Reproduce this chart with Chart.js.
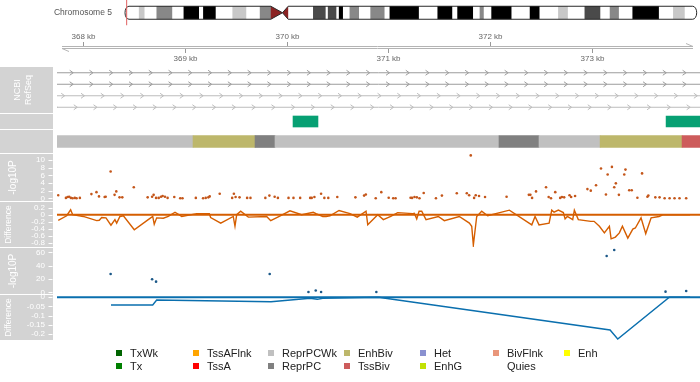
<!DOCTYPE html>
<html><head><meta charset="utf-8">
<script src="https://cdn.jsdelivr.net/npm/chart.js@4.4.1/dist/chart.umd.min.js"></script>
<style>
html,body{margin:0;padding:0;background:#fff;}
#wrap{position:relative;width:700px;height:382px;overflow:hidden;background:#fff;font-family:"Liberation Sans",Arial,sans-serif;}
#wrap canvas{position:absolute;left:0;}
.li{position:absolute;font-size:11px;color:#222;line-height:13px;white-space:nowrap;}
.sw{position:absolute;width:6px;height:6px;}
</style></head><body><div id="wrap"></div>
<script>
// ================= DATA =================
const viewStartKb = 367.745;
const viewEndKb = 374.06;
const axisTickKb = [368, 369, 370, 371, 372, 373];

const chromosomeLabel = 'Chromosome 5';
const chromosomeLengthMb = 181.5;
const bandStartMb = [0, 4.5, 6.3, 10.1, 15.1, 18.7, 23.6, 24.9, 28.9, 34.2, 38.6, 42.9, 51.8, 59.8, 63.8, 64.5, 67.2, 68.0, 69.3, 71.4, 74.4, 78.0, 82.5, 84.1, 93.4, 99.3, 104.0, 105.6, 110.6, 112.7, 114.0, 116.4, 122.8, 128.6, 131.7, 137.6, 140.7, 146.0, 151.0, 154.0, 156.9, 161.2, 169.6, 174.1, 177.8];
const bandEndMb   = [4.5, 6.3, 10.1, 15.1, 18.7, 23.6, 24.9, 28.9, 34.2, 38.6, 42.9, 46.3, 59.8, 63.8, 64.5, 67.2, 68.0, 69.3, 71.4, 74.4, 78.0, 82.5, 84.1, 93.4, 99.3, 104.0, 105.6, 110.6, 112.7, 114.0, 116.4, 122.8, 128.6, 131.7, 137.6, 140.7, 146.0, 151.0, 154.0, 156.9, 161.2, 169.6, 174.1, 177.8, 181.5];
const bandStain   = ['gneg','gpos25','gneg','gpos50','gneg','gpos100','gneg','gpos100','gneg','gpos25','gneg','gpos50','gneg','gpos75','gneg','gpos75','gneg','gpos100','gneg','gpos50','gneg','gpos50','gneg','gpos100','gneg','gpos100','gneg','gpos100','gneg','gpos50','gneg','gpos100','gneg','gpos100','gneg','gpos25','gneg','gpos75','gneg','gpos50','gneg','gpos100','gneg','gpos25','gneg'];
const centromereMb = [46.3, 50.0, 51.8];
const highlightMb = [0.3677, 0.3741];

const geneStartKb = [367.597, 367.597, 367.708, 367.637];
const geneEndKb   = [374.5, 374.5, 374.5, 374.5];
const geneRow     = [1, 2, 3, 4];

const featureStartKb = [370.063, 373.727];
const featureEndKb   = [370.308, 374.5];

const stateStartKb = [367.5, 369.081, 369.690, 369.886, 372.086, 372.479, 373.079, 373.884];
const stateEndKb   = [369.081, 369.690, 369.886, 372.086, 372.479, 373.079, 373.884, 374.5];
const stateName    = ['ReprPCWk','EnhBiv','ReprPC','ReprPCWk','ReprPC','ReprPCWk','EnhBiv','TssBiv'];

const legendStates = ['TxWk','Tx','TssAFlnk','TssA','ReprPCWk','ReprPC','EnhBiv','TssBiv','Het','EnhG','BivFlnk','Quies','Enh'];

const orangePosKb = [367.757,367.833,367.850,367.865,367.882,367.899,367.921,367.938,367.971,368.085,368.135,368.160,368.216,368.226,368.275,368.314,368.331,368.363,368.390,368.504,368.641,368.685,368.700,368.724,368.750,368.773,368.789,368.812,368.838,368.904,368.963,368.985,369.117,369.189,369.215,369.241,369.254,369.353,369.476,369.493,369.510,369.549,369.624,369.657,369.804,369.844,369.896,369.928,370.033,370.082,370.148,370.247,370.262,370.289,370.355,370.387,370.426,370.515,370.694,370.780,370.797,370.895,370.950,371.023,371.068,371.091,371.239,371.254,371.278,371.301,371.327,371.369,371.490,371.549,371.696,371.795,371.818,371.834,371.867,371.883,371.916,371.975,372.188,372.408,372.423,372.440,372.479,372.578,372.604,372.627,372.669,372.718,372.735,372.757,372.810,372.826,372.865,372.987,373.020,373.072,373.121,373.170,373.187,373.229,373.252,373.268,373.298,373.351,373.363,373.400,373.425,373.481,373.527,373.580,373.589,373.658,373.700,373.750,373.799,373.848,373.897,373.963];
const orangeLogP = [0.8,0.1,0.35,0.4,0.1,0,0.1,0,0.1,1.1,1.6,0.5,0.35,0.4,7.0,0.9,1.8,0.25,0.25,2.9,0.25,0.4,0.9,0.1,0.1,0.4,0.6,0.4,0.1,0.35,0,0,0.1,0,0.1,0.25,0.5,1.2,0.1,1.2,0.35,0.25,0.1,0.1,0.1,0.7,0.4,0.1,0.1,0.1,0.1,0.1,0.1,0.35,1.2,0.1,0.1,0.35,0.25,0.7,1.0,0,1.6,0.15,0,0,0.15,0.1,0.35,0.25,0,1.4,0,0.7,1.3,1.3,0.8,11.2,0.1,0.8,0.6,0.35,0.4,0.9,0.9,0.1,1.8,2.9,0.35,0,1.6,0.1,0.35,0.25,0.8,0.35,0.6,2.4,2.0,3.4,7.8,1.0,6.2,8.2,2.9,3.9,0.9,6.2,7.5,2.1,2.1,0.15,6.5,0.4,0.7,0.25,0.25,0,0,0,0,0];
const orangeLogPTicks = [0, 2, 4, 6, 8, 10];

const orangeDiffPosKb = [367.757,367.840,367.879,367.899,368.003,368.135,368.160,368.184,368.226,368.275,368.314,368.331,368.363,368.397,368.504,368.641,368.685,368.700,368.724,368.789,368.838,368.904,368.970,369.117,369.241,369.254,369.353,369.476,369.493,369.510,369.549,369.624,369.804,369.844,369.928,370.033,370.148,370.262,370.289,370.355,370.387,370.426,370.515,370.623,370.694,370.780,370.797,370.895,370.950,371.023,371.091,371.239,371.254,371.278,371.301,371.327,371.369,371.490,371.549,371.696,371.795,371.818,371.834,371.867,371.916,371.975,372.188,372.408,372.440,372.479,372.578,372.604,372.627,372.669,372.718,372.735,372.757,372.810,372.826,372.865,372.987,373.020,373.072,373.121,373.170,373.187,373.229,373.268,373.298,373.351,373.400,373.425,373.481,373.527,373.580,373.658,373.700,373.750,373.963];
const orangeDiff = [-0.16,-0.03,0.14,0.0,-0.05,-0.17,-0.16,-0.08,-0.09,-0.30,-0.14,-0.24,-0.05,-0.03,-0.43,-0.14,-0.05,-0.27,-0.09,-0.10,-0.05,0.07,-0.05,0.03,0.03,-0.08,-0.24,-0.05,-0.33,0.0,0.10,-0.07,-0.05,-0.17,-0.05,0.11,0.0,0.07,0.03,-0.05,-0.05,-0.03,0.12,0.03,-0.07,0.10,-0.29,0.0,-0.14,-0.05,0.06,0.03,0.04,-0.12,0.10,0.10,-0.14,-0.05,-0.17,-0.05,-0.24,-0.33,-0.87,-0.05,0.10,-0.03,0.13,-0.29,-0.05,-0.29,-0.24,0.13,0.07,0.13,0.06,-0.12,-0.05,-0.14,0.13,-0.14,-0.19,-0.19,-0.33,-0.52,-0.33,-0.69,-0.64,-0.52,-0.33,-0.67,-0.41,-0.38,-0.09,-0.54,-0.09,-0.05,0.0,0.0,0.0];
const orangeDiffTicks = [0.2, 0, -0.2, -0.4, -0.6, -0.8];

const bluePosKb = [368.275, 368.685, 368.724, 369.847, 370.230, 370.302, 370.355, 370.901, 373.177, 373.252, 373.759, 373.963];
const blueLogP  = [27.4, 19.5, 16.0, 27.4, 0.4, 2.6, 0.5, 0.5, 54.4, 63.4, 1.0, 2.0];
const blueLogPTicks = [0, 20, 40, 60];
const blueDiff  = [-0.042, -0.042, -0.015, -0.024, -0.005, -0.011, -0.005, 0, -0.178, -0.227, 0, 0];
const blueDiffTicks = [0, -0.05, -0.1, -0.15, -0.2];

// ================= STYLE =================
const stainColor = {gneg:'#ffffff', gpos25:'#c8c8c8', gpos50:'#888888', gpos75:'#4a4a4a', gpos100:'#000000'};
const stateColor = {TxWk:'#006400', Tx:'#008000', TssAFlnk:'#FFA500', TssA:'#FF0000', ReprPCWk:'#C0C0C0', ReprPC:'#808080', EnhBiv:'#BDB76B', TssBiv:'#CD5C5C', Het:'#8A91D0', EnhG:'#C2E105', BivFlnk:'#E9967A', Quies:'#FFFFFF', Enh:'#FFFF00'};
const geneRowColor = ['#9c9c9c', '#9c9c9c', '#bcbcbc', '#bcbcbc'];
const ORANGE = '#D55E00', ORANGE_PT = '#c4561a', BLUE = '#0a6fae', BLUE_PT = '#1b5888', GREEN = '#07a073';
const P = 10;

Chart.defaults.font.family = '"Liberation Sans", Arial, sans-serif';
Chart.defaults.animation = false;
Chart.defaults.responsive = false;
Chart.defaults.events = [];
Chart.defaults.plugins.legend.display = false;
Chart.defaults.plugins.tooltip.enabled = false;

const wrap = document.getElementById('wrap');
function makeCanvas(top, height) {
  const c = document.createElement('canvas');
  c.width = 700; c.height = height;
  c.style.top = top + 'px'; c.style.width = '700px'; c.style.height = height + 'px';
  wrap.appendChild(c);
  return c;
}
const pts = (xs, ys) => xs.map((x, i) => ({x, y: ys[i]}));
const xScale = () => ({type: 'linear', min: viewStartKb, max: viewEndKb, display: false});
const fixAxis = s => { s.width = 57; s.paddingTop = 0; s.paddingBottom = 0; s.paddingLeft = 0; s.paddingRight = 0; };

function yAxis(min, max, tickVals, title, titleSize, titlePad, extra) {
  return Object.assign({
    type: 'linear', min, max, position: 'left',
    afterFit: fixAxis,
    afterBuildTicks: s => { if (tickVals) s.ticks = tickVals.map(v => ({value: v})); },
    ticks: {display: !!tickVals, autoSkip: false, color: '#ffffff', font: {size: 8}, padding: 12, callback: v => String(v)},
    grid: {display: false, drawTicks: false},
    border: {display: false},
    title: title ? {display: true, text: title, color: '#ffffff', font: {size: titleSize}, padding: {top: titlePad, bottom: 0}} : {display: false}
  }, extra || {});
}

const panelPlugin = {
  id: 'panelBox',
  beforeDraw(chart) {
    const {ctx, chartArea: a} = chart;
    ctx.save(); ctx.fillStyle = '#d3d3d3';
    ctx.fillRect(0, a.top, 53, a.bottom - a.top);
    ctx.restore();
  },
  afterDraw(chart) {
    const s = chart.scales.y, ctx = chart.ctx;
    if (!s || !s.options.ticks.display) return;
    ctx.save(); ctx.strokeStyle = '#ffffff'; ctx.lineWidth = 1;
    s.ticks.forEach(t => {
      const y = Math.round(s.getPixelForValue(t.value)) + 0.5;
      ctx.beginPath(); ctx.moveTo(48.5, y); ctx.lineTo(52.5, y); ctx.stroke();
    });
    ctx.restore();
  }
};

// ---------- Ideogram ----------
const ideogramPlugin = {
  id: 'ideogram',
  afterDatasetsDraw(chart) {
    const {ctx, scales: {x}} = chart;
    const bar = chart.getDatasetMeta(0).data[0];
    const half = bar.height / 2, ym = bar.y, y0 = ym - half, y1 = ym + half;
    const px = v => x.getPixelForValue(v);
    const xs = px(0), xe = px(chromosomeLengthMb);
    const c1 = px(centromereMb[0]), cm = px(centromereMb[1]), c2 = px(centromereMb[2]);
    ctx.save();
    ctx.fillStyle = '#8b2323';
    ctx.beginPath(); ctx.moveTo(c1, y0); ctx.lineTo(cm, ym); ctx.lineTo(c1, y1); ctx.closePath(); ctx.fill();
    ctx.beginPath(); ctx.moveTo(c2, y0); ctx.lineTo(cm, ym); ctx.lineTo(c2, y1); ctx.closePath(); ctx.fill();
    const rx = 4;
    ctx.beginPath();
    ctx.moveTo(xs + rx, y0);
    ctx.lineTo(c1, y0); ctx.lineTo(cm, ym); ctx.lineTo(c2, y0);
    ctx.lineTo(xe - rx, y0);
    ctx.ellipse(xe - rx, ym, rx, half, 0, -Math.PI / 2, Math.PI / 2);
    ctx.lineTo(c2, y1); ctx.lineTo(cm, ym); ctx.lineTo(c1, y1);
    ctx.lineTo(xs + rx, y1);
    ctx.ellipse(xs + rx, ym, rx, half, 0, Math.PI / 2, Math.PI * 1.5);
    ctx.closePath();
    ctx.strokeStyle = '#2a2a2a'; ctx.lineWidth = 1; ctx.stroke();
    const h0 = px(highlightMb[0]), h1 = px(highlightMb[1]);
    ctx.fillStyle = '#e06060';
    ctx.fillRect(h0, 0, Math.max(1, h1 - h0), y1 + 6);
    ctx.fillStyle = '#555555'; ctx.font = '8.5px "Liberation Sans", Arial, sans-serif';
    ctx.textAlign = 'right'; ctx.textBaseline = 'middle';
    ctx.fillText(chromosomeLabel, xs - 13, ym);
    ctx.restore();
  }
};
new Chart(makeCanvas(0, 34), {
  type: 'bar',
  data: {labels: ['chr'], datasets: [{
    data: bandStartMb.map((s, i) => ({x: [s, bandEndMb[i]], y: 'chr'})),
    backgroundColor: bandStain.map(s => stainColor[s]),
    borderWidth: 0, barThickness: 13
  }]},
  options: {
    indexAxis: 'y',
    layout: {padding: {left: 125, right: 3.3, top: 6, bottom: 14.5}},
    scales: {x: {type: 'linear', min: 0, max: chromosomeLengthMb, display: false}, y: {type: 'category', display: false}}
  },
  plugins: [ideogramPlugin]
});

// ---------- Genome axis ----------
const genomeAxisPlugin = {
  id: 'gaxis',
  afterDraw(chart) {
    const {ctx, chartArea: a, scales: {x}} = chart;
    const yl = 22;
    ctx.save();
    ctx.strokeStyle = '#b4b4b4'; ctx.lineWidth = 1;
    ctx.beginPath(); ctx.moveTo(a.left + 5, yl - 0.5); ctx.lineTo(a.right - 7, yl - 0.5); ctx.stroke();
    ctx.beginPath(); ctx.moveTo(a.left + 5, yl + 1.5); ctx.lineTo(a.right - 7, yl + 1.5); ctx.stroke();
    ctx.beginPath(); ctx.moveTo(a.right - 7, yl - 0.5); ctx.lineTo(a.right - 14, yl - 3.5); ctx.stroke();
    ctx.beginPath(); ctx.moveTo(a.left + 5, yl + 1.5); ctx.lineTo(a.left + 12, yl + 4.5); ctx.stroke();
    ctx.strokeStyle = '#999999';
    ctx.fillStyle = '#666666'; ctx.font = '8px "Liberation Sans", Arial, sans-serif';
    ctx.textAlign = 'center'; ctx.textBaseline = 'middle';
    axisTickKb.forEach((v, i) => {
      const xp = Math.round(x.getPixelForValue(v)) + 0.5;
      ctx.beginPath();
      if (i % 2 === 0) { ctx.moveTo(xp, yl - 1); ctx.lineTo(xp, yl - 5); }
      else { ctx.moveTo(xp, yl + 2); ctx.lineTo(xp, yl + 6); }
      ctx.stroke();
      ctx.fillText(v + ' kb', xp, i % 2 === 0 ? yl - 10 : yl + 11.5);
    });
    ctx.restore();
  }
};
new Chart(makeCanvas(25, 42), {
  type: 'line',
  data: {datasets: []},
  options: {
    layout: {padding: {left: 57, right: 0, top: 0, bottom: 0}},
    scales: {x: xScale(), y: {display: false}}
  },
  plugins: [genomeAxisPlugin]
});

// ---------- Genes ----------
const chevronPlugin = {
  id: 'chevrons',
  afterDatasetsDraw(chart) {
    const {ctx, chartArea: a} = chart;
    ctx.save();
    ctx.beginPath(); ctx.rect(a.left, a.top, a.right - a.left, a.bottom - a.top); ctx.clip();
    chart.data.datasets.forEach((ds, i) => {
      const p = chart.getDatasetMeta(i).data;
      const x0 = p[0].x, x1 = p[1].x, y = p[0].y;
      ctx.strokeStyle = ds.borderColor; ctx.lineWidth = 1;
      ctx.beginPath();
      for (let xx = x0 + 10; xx < x1; xx += 19.77) {
        if (xx < a.left - 5 || xx > a.right + 5) continue;
        ctx.moveTo(xx - 2, y - 2.5); ctx.lineTo(xx + 1.5, y); ctx.lineTo(xx - 2, y + 2.5);
      }
      ctx.stroke();
    });
    ctx.restore();
  }
};
new Chart(makeCanvas(67 - P, 46 + 2 * P), {
  type: 'line',
  data: {datasets: geneStartKb.map((s, i) => ({
    data: [{x: s, y: geneRow[i]}, {x: geneEndKb[i], y: geneRow[i]}],
    borderColor: geneRowColor[i], borderWidth: 1, pointRadius: 0
  }))},
  options: {
    layout: {padding: {top: P, bottom: P, left: 0, right: 0}},
    scales: {x: xScale(), y: yAxis(0.5, 4.5, null, ['NCBI', 'RefSeq'], 9, 12.6, {reverse: true})}
  },
  plugins: [panelPlugin, chevronPlugin]
});

// ---------- Features & chromatin states ----------
function barPanel(top, h, label, starts, ends, colors, thick) {
  new Chart(makeCanvas(top - P, h + 2 * P), {
    type: 'bar',
    data: {labels: [label], datasets: [{
      data: starts.map((s, i) => ({x: [s, ends[i]], y: label})),
      backgroundColor: colors, borderWidth: 0, barThickness: thick
    }]},
    options: {
      indexAxis: 'y',
      layout: {padding: {top: P, bottom: P, left: 0, right: 0}},
      scales: {
        x: xScale(),
        y: {type: 'category', position: 'left', afterFit: fixAxis,
            ticks: {display: false}, grid: {display: false, drawTicks: false}, border: {display: false}}
      }
    },
    plugins: [panelPlugin]
  });
}
barPanel(114, 15, 'feat', featureStartKb, featureEndKb, GREEN, 11);
barPanel(130, 23, 'hmm', stateStartKb, stateEndKb, stateName.map(n => stateColor[n]), 12);

// ---------- Orange tracks ----------
new Chart(makeCanvas(154 - P, 47 + 2 * P), {
  type: 'line',
  data: {datasets: [{data: pts(orangePosKb, orangeLogP), showLine: false, pointRadius: 1.3, pointBackgroundColor: ORANGE_PT, pointBorderWidth: 0}]},
  options: {
    layout: {padding: {top: P, bottom: P, left: 0, right: 0}},
    scales: {x: xScale(), y: yAxis(-0.705, 11.57, orangeLogPTicks, '-log10P', 10, 7.3)}
  },
  plugins: [panelPlugin]
});
new Chart(makeCanvas(202 - P, 45 + 2 * P), {
  type: 'line',
  data: {datasets: [
    {data: [{x: viewStartKb, y: 0}, {x: viewEndKb, y: 0}], borderColor: ORANGE, borderWidth: 2, pointRadius: 0},
    {data: pts(orangeDiffPosKb, orangeDiff), borderColor: ORANGE, borderWidth: 1.4, pointRadius: 0, tension: 0}
  ]},
  options: {
    layout: {padding: {top: P, bottom: P, left: 0, right: 0}},
    scales: {x: xScale(), y: yAxis(-0.923, 0.363, orangeDiffTicks, 'Difference', 8.5, 3.9)}
  },
  plugins: [panelPlugin]
});

// ---------- Blue tracks ----------
new Chart(makeCanvas(248 - P, 46 + 2 * P), {
  type: 'line',
  data: {datasets: [{data: pts(bluePosKb, blueLogP), showLine: false, pointRadius: 1.3, pointBackgroundColor: BLUE_PT, pointBorderWidth: 0}]},
  options: {
    layout: {padding: {top: P, bottom: P, left: 0, right: 0}},
    scales: {x: xScale(), y: yAxis(-2.55, 66.45, blueLogPTicks, '-log10P', 10, 7.3)}
  },
  plugins: [panelPlugin]
});
new Chart(makeCanvas(295 - P, 45 + 2 * P), {
  type: 'line',
  data: {datasets: [
    {data: [{x: viewStartKb, y: 0}, {x: viewEndKb, y: 0}], borderColor: BLUE, borderWidth: 2, pointRadius: 0},
    {data: pts(bluePosKb, blueDiff), borderColor: BLUE, borderWidth: 1.4, pointRadius: 0, tension: 0}
  ]},
  options: {
    layout: {padding: {top: P, bottom: P, left: 0, right: 0}},
    scales: {x: xScale(), y: yAxis(-0.2327, 0.0125, blueDiffTicks, 'Difference', 8.5, 3.9)}
  },
  plugins: [panelPlugin]
});

// ---------- Legend ----------
const legendColX = [130, 207, 282, 358, 434, 507, 578];
const legendRowMid = [353, 366];
legendStates.forEach((name, i) => {
  const col = Math.floor(i / 2), row = i % 2;
  const sw = document.createElement('div');
  sw.className = 'sw';
  sw.style.left = (legendColX[col] - 14) + 'px';
  sw.style.top = (legendRowMid[row] - 3) + 'px';
  sw.style.background = stateColor[name];
  wrap.appendChild(sw);
  const t = document.createElement('div');
  t.className = 'li';
  t.style.left = legendColX[col] + 'px';
  t.style.top = (legendRowMid[row] - 6.5) + 'px';
  t.textContent = name;
  wrap.appendChild(t);
});
</script></body></html>
